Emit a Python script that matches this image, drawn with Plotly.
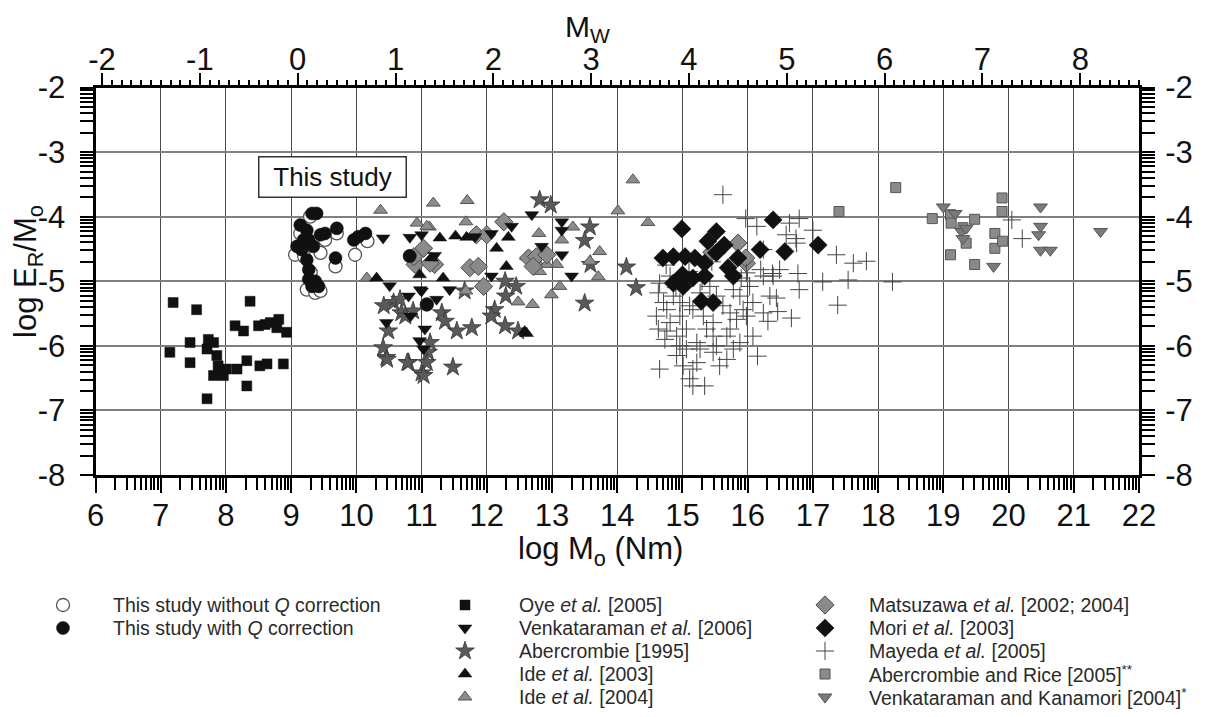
import plotly.graph_objects as go
import math

# ---------------- data (log M0 [Nm], log ER/M0) ----------------
noq_x = [9.06, 9.45, 9.68, 9.98, 9.24, 9.37, 9.45, 9.52, 9.70, 10.17, 9.14, 9.29, 10.82, 11.08, 9.20, 9.30]
noq_y = [-4.59, -4.56, -4.77, -4.59, -5.13, -5.18, -5.15, -4.36, -4.26, -4.38, -4.26, -4.00, -4.61, -5.36, -4.62, -4.86]

withq_x = [9.39, 9.32, 9.14, 9.09, 9.16, 9.24, 9.27, 9.24, 9.27, 9.27, 9.32, 9.42, 9.37, 9.45, 9.52, 9.70,
           9.68, 9.96, 10.14, 10.03, 9.34, 9.19, 10.82, 11.08]
withq_y = [-3.95, -3.95, -4.13, -4.46, -4.51, -4.21, -4.36, -4.67, -4.82, -4.97, -5.08, -5.08, -5.00, -4.28, -4.26, -4.18,
           -4.64, -4.36, -4.26, -4.31, -4.46, -4.36, -4.61, -5.36]

oye_x = [7.19, 7.55, 8.37, 7.14, 7.45, 7.45, 7.71, 7.73, 7.71, 7.81, 7.86, 7.88, 7.91, 8.01, 7.81, 7.96, 8.14, 8.27,
         8.32, 8.17, 8.32, 8.50, 8.60, 8.68, 8.81, 8.78, 8.93, 8.52, 8.63, 8.88]
oye_y = [-5.33, -5.44, -5.31, -6.10, -5.95, -6.26, -6.82, -5.90, -6.05, -5.95, -6.15, -6.31, -6.41, -6.36, -6.46, -6.46,
         -5.69, -5.77, -6.62, -6.36, -6.23, -5.69, -5.67, -5.64, -5.59, -5.72, -5.79, -6.31, -6.28, -6.28]

venk06_x = [12.69, 13.15, 13.15, 13.15, 13.30, 12.84, 12.38, 12.07, 11.43, 10.82, 10.41, 10.51, 10.80, 11.00, 11.23,
            10.46, 11.05, 10.97, 10.83, 11.00, 11.82, 12.07, 11.03, 10.98, 11.20]
venk06_y = [-3.97, -4.08, -4.21, -4.59, -4.92, -4.46, -4.15, -4.92, -5.13, -4.32, -4.33, -5.07, -5.23, -5.15, -5.28,
            -5.64, -5.74, -5.92, -5.54, -4.28, -4.31, -4.26, -6.05, -5.13, -4.60]

aber_x = [12.81, 12.98, 13.58, 13.50, 13.59, 14.14, 14.29, 13.50, 12.45, 12.28, 12.29, 12.12, 12.07, 12.28, 12.48,
          11.77, 11.54, 11.48, 11.00, 10.80, 10.46, 10.41, 10.49, 10.57, 10.69, 10.87, 11.31, 11.36, 11.10, 11.08,
          11.13, 11.66, 10.42, 10.47, 10.78, 11.03, 10.67, 10.75]
aber_y = [-3.74, -3.82, -4.16, -4.37, -4.74, -4.78, -5.10, -5.34, -5.08, -5.00, -5.23, -5.44, -5.54, -5.69, -5.77,
          -5.72, -5.77, -6.33, -6.42, -6.26, -6.18, -6.03, -5.77, -5.33, -5.49, -5.46, -5.49, -5.62, -6.10, -6.26,
          -5.95, -5.15, -5.38, -6.21, -6.26, -6.46, -5.28, -5.54]

ide03_x = [11.28, 11.69, 12.33, 12.15, 12.30, 11.33, 10.97, 12.61, 11.15, 10.31, 11.52, 12.58]
ide03_y = [-4.33, -4.32, -4.32, -4.49, -4.77, -4.95, -4.90, -5.81, -4.64, -4.95, -4.30, -5.78]

ide04_x = [10.37, 11.18, 11.70, 14.24, 14.01, 14.47, 11.68, 10.93, 11.12, 13.32, 12.80, 13.73, 13.71, 13.12, 12.99,
           12.70, 12.48, 11.68, 12.81, 13.07, 13.15, 13.58, 10.16, 11.08, 12.76, 12.92, 12.61]
ide04_y = [-3.90, -3.79, -3.75, -3.43, -3.91, -4.09, -4.08, -4.10, -4.16, -4.16, -4.26, -4.54, -4.93, -5.08, -5.21,
           -5.36, -5.32, -5.15, -4.85, -4.74, -4.36, -4.69, -4.95, -4.15, -4.69, -4.74, -4.62]

mats_x = [11.03, 10.90, 11.20, 11.74, 11.87, 11.95, 11.84, 12.00, 12.26, 12.64, 12.76, 12.92, 12.71, 15.98, 11.13,
          10.88, 15.85, 15.97, 15.45]
mats_y = [-4.49, -4.74, -4.74, -4.79, -4.77, -5.08, -4.28, -4.28, -4.08, -4.64, -4.62, -4.59, -4.77, -4.72, -4.72,
          -4.62, -4.41, -4.64, -4.55]

mori_x = [14.99, 15.52, 16.39, 15.39, 15.64, 14.70, 14.86, 15.04, 15.19, 15.34, 15.52, 15.70, 15.85, 16.19, 16.57,
          14.86, 15.01, 15.16, 15.34, 15.47, 15.78, 15.29, 15.00, 17.08]
mori_y = [-4.19, -4.23, -4.05, -4.38, -4.44, -4.64, -4.62, -4.62, -4.64, -4.72, -4.56, -4.79, -4.64, -4.51, -4.54,
          -5.03, -5.08, -4.95, -4.92, -5.33, -4.92, -5.31, -4.90, -4.44]

mayeda_x = [15.62, 15.97, 16.64, 16.79, 17.00, 17.36, 17.62, 17.82, 17.54, 17.15, 18.22, 17.38, 16.79, 16.77, 16.44,
            16.31, 16.67, 16.46, 16.15, 20.05, 20.21, 16.20, 16.38, 16.59, 16.74,
            14.65, 15.11, 15.16, 15.34, 15.68, 14.63, 14.76, 14.96, 15.06, 15.22, 15.47, 15.73, 15.88, 15.98,
            14.76, 14.86, 14.63, 14.96, 15.16, 15.32, 15.47, 15.62, 15.88, 16.03, 16.24, 16.49, 16.14, 14.65,
            14.81, 15.27, 15.78, 15.93, 15.22, 15.01, 15.47, 15.57, 14.81, 14.91, 15.06, 15.37, 15.78, 15.52,
            15.27, 15.11, 15.83, 16.08, 15.73, 16.34, 16.24, 15.52, 14.96, 14.71, 15.42, 15.98, 16.24, 16.75,
            15.16, 14.91, 15.68, 14.60, 14.73, 16.08, 16.39, 14.75, 15.10, 15.45, 15.90, 14.90, 15.30]
mayeda_y = [-3.66, -4.03, -4.10, -4.03, -4.21, -4.59, -4.72, -4.69, -4.98, -5.01, -5.01, -5.37, -5.13, -4.88, -5.26,
            -5.62, -5.57, -5.47, -6.16, -4.05, -4.34, -4.82, -4.88, -4.28, -4.34,
            -6.36, -6.51, -6.62, -6.62, -6.21, -5.74, -5.77, -6.00, -6.05, -5.95, -5.85, -5.74, -5.95, -5.54,
            -5.44, -5.23, -5.18, -5.54, -5.44, -5.54, -5.64, -5.38, -5.23, -5.08, -4.92, -4.82, -4.15, -5.03,
            -4.92, -5.18, -5.13, -5.44, -6.26, -6.31, -6.10, -6.31, -5.64, -5.85, -5.74, -5.74, -6.05, -6.00,
            -6.05, -5.38, -5.59, -5.33, -5.49, -5.23, -5.49, -5.23, -5.33, -5.33, -5.08, -4.87, -4.51, -4.41,
            -6.36, -6.15, -5.85, -5.54, -5.90, -5.85, -4.92, -4.75, -4.85, -4.70, -4.95, -5.10, -5.00]

ar_x = [18.27, 17.40, 18.83, 19.11, 19.12, 19.30, 19.48, 19.35, 19.11, 19.48, 19.79, 19.79, 19.90, 19.90, 19.91]
ar_y = [-3.55, -3.92, -4.03, -3.97, -4.10, -4.17, -4.04, -4.41, -4.59, -4.74, -4.26, -4.49, -3.71, -3.92, -4.38]

vk_x = [19.00, 19.18, 19.28, 19.30, 19.35, 19.77, 20.49, 20.49, 20.46, 20.49, 20.64, 21.41]
vk_y = [-3.85, -3.95, -4.23, -4.34, -4.18, -4.77, -3.85, -4.15, -4.28, -4.52, -4.52, -4.23]

x_ticks = list(range(6, 23))
y_ticks = list(range(-8, -1))
mw_ticks = list(range(-2, 9))

# ---------------- styles / geometry ----------------
FONT = "Liberation Sans, Arial, sans-serif"
W, H = 1191, 701                 # page has an 8 px body margin inside the 1207x717 window
OFF = 8                          # screenshot px -> figure px offset
PL, PR, PT, PB = 95.5 - OFF, 1139.0 - OFF, 87.5 - OFF, 475.0 - OFF


def px(x):
    return (x - OFF) / W


def py(y):
    return 1 - (y - OFF) / H


series = [
    ("noq", "This study without <i>Q</i> correction", noq_x, noq_y,
     dict(symbol="circle", size=13, color="white", line=dict(width=1.3, color="#555"))),
    ("aber", "Abercrombie [1995]", aber_x, aber_y,
     dict(symbol="star", size=14, color="#5a5a5a", line=dict(width=0.8, color="#333"))),
    ("ide04", "Ide <i>et al.</i> [2004]", ide04_x, ide04_y,
     dict(symbol="triangle-up", size=12, color="#8c8c8c", line=dict(width=1, color="#555"))),
    ("mats", "Matsuzawa <i>et al.</i> [2002; 2004]", mats_x, mats_y,
     dict(symbol="diamond", size=14, color="#8a8a8a", line=dict(width=1, color="#4a4a4a"))),
    ("venk06", "Venkataraman <i>et al.</i> [2006]", venk06_x, venk06_y,
     dict(symbol="triangle-down", size=12, color="#111", line=dict(width=0.5, color="#111"))),
    ("ide03", "Ide <i>et al.</i> [2003]", ide03_x, ide03_y,
     dict(symbol="triangle-up", size=12, color="#111", line=dict(width=0.5, color="#111"))),
    ("mayeda", "Mayeda <i>et al.</i> [2005]", mayeda_x, mayeda_y,
     dict(symbol="cross-thin", size=13, color="#444", line=dict(width=1, color="#444"))),
    ("mori", "Mori <i>et al.</i> [2003]", mori_x, mori_y,
     dict(symbol="diamond", size=14, color="#111", line=dict(width=0.5, color="#111"))),
    ("oye", "Oye <i>et al.</i> [2005]", oye_x, oye_y,
     dict(symbol="square", size=10, color="#111", line=dict(width=0.5, color="#111"))),
    ("ar", "Abercrombie and Rice [2005]<sup>**</sup>", ar_x, ar_y,
     dict(symbol="square", size=10, color="#8a8a8a", line=dict(width=1, color="#555"))),
    ("vk", "Venkataraman and Kanamori [2004]<sup>*</sup>", vk_x, vk_y,
     dict(symbol="triangle-down", size=12, color="#7a7a7a", line=dict(width=1, color="#555"))),
    ("withq", "This study with <i>Q</i> correction", withq_x, withq_y,
     dict(symbol="circle", size=13, color="#111", line=dict(width=0.5, color="#111"))),
]

fig = go.Figure()
for key, name, xs, ys, mk in series:
    fig.add_trace(go.Scatter(x=xs, y=ys, mode="markers", name=name, marker=mk,
                             showlegend=False, xaxis="x", yaxis="y", hoverinfo="x+y+name"))

# empty traces to activate the mirror axes (Mw on top, right y axis)
fig.add_trace(go.Scatter(x=[], y=[], xaxis="x2", yaxis="y", showlegend=False))
fig.add_trace(go.Scatter(x=[], y=[], xaxis="x", yaxis="y2", showlegend=False))

# ---------------- manual legend (3 columns, screenshot px) ----------------
rows = [605, 628, 651, 674, 697]
legend_layout = {
    "noq": (63, 111, rows[0]), "withq": (63, 111, rows[1]),
    "oye": (465, 517, rows[0]), "venk06": (465, 517, rows[1]), "aber": (465, 517, rows[2]),
    "ide03": (465, 517, rows[3]), "ide04": (465, 517, rows[4]),
    "mats": (825, 867, rows[0]), "mori": (825, 867, rows[1]), "mayeda": (825, 867, rows[2]),
    "ar": (825, 867, rows[3]), "vk": (825, 867, rows[4]),
}
annotations = []
for key, name, xs, ys, mk in series:
    mx, tx, ty = legend_layout[key]
    fig.add_trace(go.Scatter(x=[mx - OFF], y=[ty - OFF], mode="markers", marker=mk, showlegend=False,
                             xaxis="x3", yaxis="y3", hoverinfo="skip"))
    annotations.append(dict(x=px(tx), y=py(ty), xref="paper", yref="paper", text=name,
                            showarrow=False, xanchor="left", yanchor="middle",
                            font=dict(family=FONT, size=19.5, color="#2a2a2a")))

# axis titles and the box label
annotations += [
    dict(x=px(587), y=1.0, xref="paper", yref="paper", text="M<sub>W</sub>", showarrow=False,
         xanchor="center", yanchor="top", font=dict(family=FONT, size=30, color="#111")),
    dict(x=px(600), y=py(551), xref="paper", yref="paper", text="log M<sub>o</sub> (Nm)",
         showarrow=False, xanchor="center", yanchor="middle", font=dict(family=FONT, size=31, color="#111")),
    dict(x=px(28), y=py(272), xref="paper", yref="paper", text="log E<sub>R</sub>/M<sub>o</sub>",
         showarrow=False, textangle=-90, xanchor="center", yanchor="middle",
         font=dict(family=FONT, size=31, color="#111")),
    dict(x=9.635, y=-3.38, xref="x", yref="y", text="This study", showarrow=False,
         font=dict(family=FONT, size=26, color="#111"), bgcolor="white", bordercolor="#333",
         borderwidth=1.5, borderpad=3, width=140, height=33),
]

xminor = [k + math.log10(j) for k in x_ticks[:-1] for j in range(2, 10)]
yminor = [k + math.log10(j) for k in y_ticks[:-1] for j in range(2, 10)]
mw_pos = [9.1 + 1.5 * m for m in mw_ticks]
mw_minor = [9.1 + 0.15 * i for i in range(-21, 90) if i % 10 != 0 and 6 <= 9.1 + 0.15 * i <= 22]

xdom = [PL / W, PR / W]
ydom = [1 - PB / H, 1 - PT / H]
tickfont = dict(family=FONT, size=31, color="#111")

common_x = dict(range=[6, 22], domain=xdom, showline=True, linewidth=3, linecolor="black",
                ticks="outside", tickcolor="black", zeroline=False, tickfont=tickfont, automargin=False)
common_y = dict(range=[-8, -2], domain=ydom, showline=True, linewidth=3, linecolor="black",
                ticks="outside", tickcolor="black", zeroline=False, tickfont=tickfont, automargin=False,
                tickvals=y_ticks, ticktext=[str(v) for v in y_ticks], ticklen=13, tickwidth=2,
                minor=dict(tickmode="array", tickvals=yminor, ticks="outside", ticklen=13,
                           tickwidth=1.5, tickcolor="black", showgrid=False))

fig.update_layout(
    width=W, height=H, template="none",
    margin=dict(l=0, r=0, t=0, b=0, pad=0),
    paper_bgcolor="white", plot_bgcolor="rgba(0,0,0,0)",
    showlegend=False,
    xaxis=dict(common_x, anchor="y", side="bottom", tickvals=x_ticks,
               ticktext=[str(v) for v in x_ticks], ticklen=15, tickwidth=2, ticklabelstandoff=-4,
               showgrid=True, gridcolor="#4a4a4a", gridwidth=1.2,
               minor=dict(tickmode="array", tickvals=xminor, ticks="outside", ticklen=12,
                          tickwidth=1.5, tickcolor="black", showgrid=False)),
    xaxis2=dict(common_x, anchor="y", side="top", overlaying="x", tickvals=mw_pos,
                ticktext=[str(m) for m in mw_ticks], ticklen=12, tickwidth=2, showgrid=False,
                ticklabelstandoff=-10,
                minor=dict(tickmode="array", tickvals=mw_minor, ticks="outside", ticklen=5,
                           tickwidth=1.5, tickcolor="black", showgrid=False)),
    yaxis=dict(common_y, anchor="x", side="left", showgrid=True, gridcolor="#808080", gridwidth=2,
               ticklabelstandoff=8),
    yaxis2=dict(common_y, anchor="x", side="right", overlaying="y", showgrid=False,
                ticklabelstandoff=4),
    xaxis3=dict(domain=[0, 1], range=[0, W], visible=False, anchor="y3", fixedrange=True),
    yaxis3=dict(domain=[0, 1], range=[H, 0], visible=False, anchor="x3", fixedrange=True),
    annotations=annotations,
    font=dict(family=FONT, color="#111"),
)

fig.write_html("out.html")
